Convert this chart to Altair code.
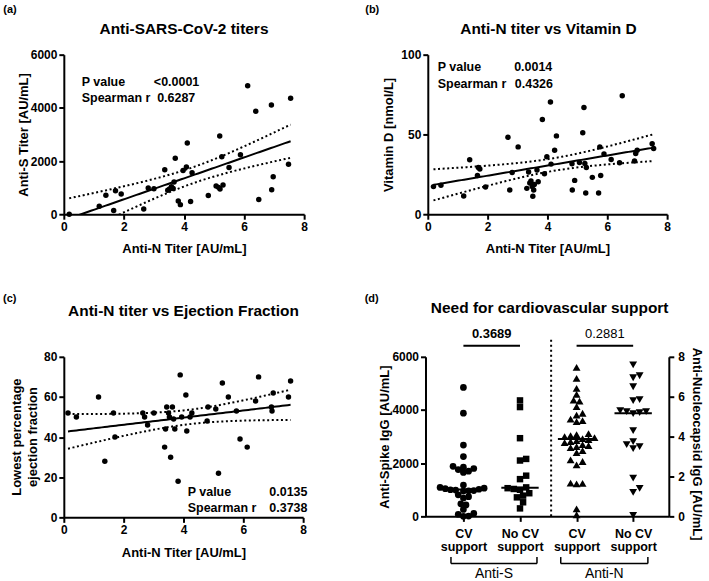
import numpy as np
import pandas as pd
import altair as alt

FONT = "Liberation Sans"

# ---- (a) Anti-N titer vs Anti-S titer ---------------------------------------
a_anti_n = [0.18, 1.18, 1.40, 1.66, 1.72, 1.91, 2.66, 2.81, 3.00, 3.36, 3.46, 3.52,
            3.58, 3.64, 3.67, 3.71, 3.81, 3.88, 3.97, 4.08, 4.11, 4.22, 4.27, 4.81,
            5.07, 5.15, 5.19, 5.20, 5.26, 5.30, 5.50, 5.88, 6.12, 6.39, 6.49, 6.91,
            6.92, 6.97, 7.48, 7.55]
a_anti_s = [0, 300, 710, 137, 885, 760, 200, 985, 960, 1670, 900, 950,
            1030, 970, 1210, 2105, 500, 360, 1645, 1780, 2680, 475, 1560, 700,
            1060, 1010, 2940, 950, 2160, 1100, 1760, 2240, 4835, 3875, 550, 4110,
            920, 1410, 1880, 4360]
a_stats = ("<0.0001", "0.6287")

# ---- (b) Anti-N titer vs vitamin D -------------------------------------------
b_anti_n = [0.19, 0.44, 1.20, 1.40, 1.66, 1.69, 1.74, 1.93, 2.68, 2.74, 2.82, 3.02,
            3.31, 3.37, 3.41, 3.45, 3.49, 3.51, 3.54, 3.56, 3.65, 3.69, 3.83, 3.90,
            3.98, 4.10, 4.12, 4.24, 4.30, 4.82, 4.83, 4.91, 5.07, 5.18, 5.22, 5.25,
            5.28, 5.30, 5.50, 5.71, 5.75, 5.78, 5.89, 6.13, 6.41, 6.50, 6.91, 6.95,
            7.00, 7.50, 7.55]
b_vitamin_d = [17.3, 18.1, 11.4, 34.1, 24.3, 29.3, 28.3, 17.0, 48.2, 15.2, 26.2, 42.2,
               16.2, 26.4, 19.5, 20.8, 17.3, 11.2, 15.2, 18.7, 27.7, 20.4, 59.3, 25.4,
               36.0, 70.3, 31.4, 40.1, 49.1, 31.6, 15.2, 21.2, 32.4, 51.1, 66.9, 31.8,
               13.3, 29.3, 23.1, 13.3, 42.2, 24.3, 37.8, 34.3, 32.2, 74.2, 33.3, 38.0,
               40.1, 44.1, 41.2]
b_stats = ("0.0014", "0.4326")

# ---- (c) Anti-N titer vs lowest ejection fraction ----------------------------
c_anti_n = [0.14, 0.42, 1.16, 1.37, 1.66, 1.71, 2.64, 2.70, 2.80, 3.01, 3.37, 3.40,
            3.44, 3.50, 3.53, 3.57, 3.63, 3.67, 3.71, 3.82, 3.89, 3.94, 4.08, 4.11,
            4.22, 4.28, 4.79, 4.82, 5.08, 5.17, 5.30, 5.50, 5.77, 5.89, 6.13, 6.41,
            6.51, 6.94, 6.96, 7.00, 7.51, 7.58]
c_ejection = [52, 50, 60, 28, 52, 40, 52, 50, 46, 52, 35, 44,
              55, 52, 50, 30, 55, 49, 44, 18, 71, 50, 61, 43,
              50, 52, 48, 55, 54, 22, 67, 60, 53, 39, 35, 58,
              70, 55, 53, 62, 60, 68]
c_stats = ("0.0135", "0.3738")
c_y_title = ["Lowest percentage", "ejection fraction"]

# ---- (d) Need for cardiovascular support -------------------------------------
d_spike_cv = [4850, 3880, 2680, 2250, 1880, 1850, 1800, 1760, 1700, 1650, 1180, 1090,
              1060, 1040, 1020, 1000, 990, 970, 960, 950, 810, 740, 690, 470, 430,
              260, 110, 80, 10, 0]
d_spike_nocv = [4360, 4110, 2940, 2160, 2100, 1530, 1400, 1090, 1060, 1030, 1000, 870,
                780, 715, 530, 300]
d_nuc_cv = [7.47, 6.92, 6.42, 6.12, 5.83, 5.78, 5.50, 5.17, 5.08, 4.88, 4.80, 4.75,
            4.15, 4.10, 4.05, 4.00, 3.95, 3.90, 3.85, 3.80, 3.75, 3.70, 3.60, 3.55,
            3.50, 3.45, 3.30, 3.20, 2.83, 2.75, 2.58, 1.67, 1.65, 1.63, 0.38, 0.08]
d_nuc_nocv = [7.60, 7.05, 6.95, 6.50, 5.85, 5.80, 5.30, 5.25, 5.25, 5.20, 5.15, 4.30,
              3.75, 3.60, 3.50, 3.40, 1.92, 1.40, 1.20, 0.05]
d_nuc_ticks = [0, 2, 4, 6, 8]
d_categories = [["CV", "support"], ["No CV", "support"], ["CV", "support"], ["No CV", "support"]]
d_brackets = ["Anti-S", "Anti-N"]
d_pvalues = ["0.3689", "0.2881"]

ONE = pd.DataFrame({"i": [0]})


def txt(s, x, y, size=12.5, weight="bold", align="left", baseline="middle", angle=0):
    """A free-standing text label placed in pixel coordinates of its panel."""
    return alt.Chart(ONE).mark_text(
        text=s, align=align, baseline=baseline, fontSize=size, angle=angle,
        fontWeight=weight, font=FONT, color="black",
    ).encode(x=alt.value(x), y=alt.value(y))


def t975(df):
    return 1.96 + 2.4 / df + 2.5 / df ** 2


def fit_band(x, y, n_pts=80):
    """Least-squares line with its 95% confidence band for the mean (long format)."""
    x = np.asarray(x, float)
    y = np.asarray(y, float)
    n = len(x)
    slope, icpt = np.polyfit(x, y, 1)
    xs = np.linspace(x.min(), x.max(), n_pts)
    yhat = icpt + slope * xs
    s = np.sqrt(np.sum((y - (icpt + slope * x)) ** 2) / (n - 2))
    sxx = np.sum((x - x.mean()) ** 2)
    se = s * np.sqrt(1.0 / n + (xs - x.mean()) ** 2 / sxx)
    t = t975(n - 2)
    parts = []
    for kind, vals in (("fit", yhat), ("lo", yhat - t * se), ("hi", yhat + t * se)):
        parts.append(pd.DataFrame({"x": xs, "y": vals, "kind": kind}))
    return pd.concat(parts, ignore_index=True)


def scatter_panel(xv, yv, y_max, y_ticks, y_step, y_title, y_title_x, x_title_y,
                  width, height, extras):
    pts = pd.DataFrame({"x": xv, "y": yv})
    band = fit_band(xv, yv)
    xsc = alt.Scale(domain=[0, 8], nice=False)
    ysc = alt.Scale(domain=[0, y_max], nice=False)
    xaxis = alt.Axis(values=[0, 2, 4, 6, 8], title="Anti-N Titer [AU/mL]",
                     titleY=x_title_y, titleBaseline="middle", labelOverlap=False)
    yaxis_kw = dict(values=y_ticks, format="d", labelOverlap=False,
                    labelExpr=f"datum.value % {y_step} == 0 ? datum.label : ''")
    if y_title is None:
        yaxis = alt.Axis(title=None, **yaxis_kw)
    else:
        yaxis = alt.Axis(title=y_title, titleX=y_title_x, titleBaseline="middle", **yaxis_kw)
    points = alt.Chart(pts).mark_circle(size=30, color="black", opacity=1).encode(
        x=alt.X("x:Q", scale=xsc, axis=xaxis),
        y=alt.Y("y:Q", scale=ysc, axis=yaxis),
    )
    base = alt.Chart(band).encode(x=alt.X("x:Q", scale=xsc), y=alt.Y("y:Q", scale=ysc))
    fit = base.transform_filter("datum.kind == 'fit'").mark_line(
        color="black", strokeWidth=2, clip=True)
    bands = base.transform_filter("datum.kind != 'fit'").mark_line(
        color="black", strokeWidth=2, strokeDash=[2, 2.6], clip=True).encode(detail="kind:N")
    return alt.layer(points, fit, bands, *extras).properties(width=width, height=height)


# ---- panel (a)
WA, HA = 241, 160
panel_a = scatter_panel(
    a_anti_n, a_anti_s, 6000, [0, 2000, 4000, 6000], 2000, "Anti-S Titer [AU/mL]",
    -40.4, 34.3, WA, HA,
    [
        txt("(a)", -60.7, -51, 11, baseline="top"),
        txt("Anti-SARS-CoV-2 titers", WA / 2, -25.7, 15.5, align="center"),
        txt("P value", 18, 27.7), txt(a_stats[0], 90.3, 27.7),
        txt("Spearman r", 18, 43.7), txt(a_stats[1], 93.6, 43.7),
    ],
)

# ---- panel (b)
WB, HB = 240, 160
panel_b = scatter_panel(
    b_anti_n, b_vitamin_d, 100, [0, 25, 50, 75, 100], 50, "Vitamin D [nmol/L]",
    -39.4, 34, WB, HB,
    [
        txt("(b)", -62.7, -51, 11, baseline="top"),
        txt("Anti-N titer vs Vitamin D", WB / 2 + 1, -25.7, 15.5, align="center"),
        txt("P value", 10, 12.7), txt(b_stats[0], 86.6, 12.7),
        txt("Spearman r", 10, 29.3), txt(b_stats[1], 87.3, 29.3),
    ],
)

# ---- panel (c): two-line y title set as rotated text beside the axis
WC, HC = 240, 161
panel_c = scatter_panel(
    c_anti_n, c_ejection, 80, [0, 10, 20, 30, 40, 50, 60, 70, 80], 20,
    None, 0, 35, WC, HC,
    [
        txt(c_y_title[0], -47.3, HC / 2, 13, align="center", angle=270),
        txt(c_y_title[1], -30.7, HC / 2, 13, align="center", angle=270),
        txt("(c)", -61, -63.5, 11, baseline="top"),
        txt("Anti-N titer vs Ejection Fraction", WC / 2, -45.7, 15.5, align="center"),
        txt("P value", 124.3, 135.3), txt(c_stats[0], 244.3, 135.3, align="right"),
        txt("Spearman r", 124.3, 151.6), txt(c_stats[1], 244.3, 151.6, align="right"),
    ],
)

# ---- panel (d)
WD, HD = 244, 160
XD = [0.33, 4.63]
PX_PER_X = WD / (XD[1] - XD[0])


def swarm(values, px_per_unit, diam):
    """Horizontal offsets (px) that spread overlapping points side by side."""
    ypx = np.asarray(values, float) * px_per_unit
    offs = np.zeros(len(ypx))
    placed = []
    step = diam / 2.0
    cands = [0.0]
    for j in range(1, 40):
        cands += [j * step, -j * step]
    for i in np.argsort(ypx, kind="stable"):
        for c in cands:
            if all((c - px) ** 2 + (ypx[i] - py) ** 2 >= diam ** 2 for px, py in placed):
                offs[i] = c
                placed.append((c, ypx[i]))
                break
    return offs


def group_frame(values, pos, px_per_unit, diam):
    off = swarm(values, px_per_unit, diam) / PX_PER_X
    return pd.DataFrame({"x": pos + off, "v": values})


spike_px = HD / 6000.0
nuc_px = HD / 8.0
g1 = group_frame(d_spike_cv, 1, spike_px, 5.2)
g2 = group_frame(d_spike_nocv, 2, spike_px, 6.2)
g3 = group_frame(d_nuc_cv, 3, nuc_px, 6.0)
g4 = group_frame(d_nuc_nocv, 4, nuc_px, 6.5)

xd_scale = alt.Scale(domain=XD, nice=False, zero=False)
label_lookup = "[" + ",".join("['" + "','".join(c) + "']" for c in d_categories) + "]"
xd_axis = alt.Axis(values=[1, 2, 3, 4], title=None, labelExpr=f"{label_lookup}[datum.value - 1]",
                   labelLineHeight=13.5, labelFontSize=12.5, labelPadding=6,
                   labelOverlap=False)
spike_scale = alt.Scale(domain=[0, 6000], nice=False)
nuc_scale = alt.Scale(domain=[0, 8], nice=False)
spike_axis = alt.Axis(values=[0, 2000, 4000, 6000], format="d", title="Anti-Spike IgG [AU/mL]",
                      titleX=-41, titleBaseline="middle", labelOverlap=False)
nuc_axis = alt.Axis(values=d_nuc_ticks, tickCount=5, format="d", orient="right",
                    title="Anti-Nucleocapsid IgG [AU/mL]", titleX=28, titleY=HD / 2 + 7,
                    titleBaseline="middle", titleAngle=90, labelOverlap=False,
                    labelSeparation=0, labelPadding=4,
                    labelExpr="format(datum.value, 'd')")

XQ = lambda f: alt.X(f, scale=xd_scale)
YS = lambda f: alt.Y(f, scale=spike_scale)
YN = lambda f: alt.Y(f, scale=nuc_scale)

circles = alt.Chart(g1).mark_circle(size=45, color="black", opacity=1).encode(
    x=alt.X("x:Q", scale=xd_scale, axis=xd_axis),
    y=alt.Y("v:Q", scale=spike_scale, axis=spike_axis))
squares = alt.Chart(g2).mark_square(size=42, color="black", opacity=1).encode(
    x=XQ("x:Q"), y=YS("v:Q"))

HALF = 0.33
spike_med = pd.DataFrame({"pos": [1, 2], "med": [np.median(d_spike_cv), np.median(d_spike_nocv)]})
spike_med["x0"] = spike_med["pos"] - HALF
spike_med["x1"] = spike_med["pos"] + HALF
spike_med_rule = alt.Chart(spike_med).mark_rule(color="black", strokeWidth=2).encode(
    x=XQ("x0:Q"), x2="x1:Q", y=YS("med:Q"))

# comparison bars with p-values above each pair
P_BAR = 6412
pv = pd.DataFrame({"a": [1, 3], "b": [2, 4], "label": d_pvalues})
pv["y"] = P_BAR
pv["mid"] = (pv["a"] + pv["b"]) / 2
pv["ty"] = P_BAR + 460
pbars = alt.Chart(pv).mark_rule(color="black", strokeWidth=2).encode(
    x=XQ("a:Q"), x2="b:Q", y=YS("y:Q"))
ptext_bold = alt.Chart(pv.iloc[[0]]).mark_text(fontSize=13, fontWeight="bold", font=FONT,
                                               color="black", baseline="middle").encode(
    x=XQ("mid:Q"), y=YS("ty:Q"), text="label:N")
ptext_plain = alt.Chart(pv.iloc[[1]]).mark_text(fontSize=13, fontWeight="normal", font=FONT,
                                                color="black", baseline="middle").encode(
    x=XQ("mid:Q"), y=YS("ty:Q"), text="label:N")

# dotted divider between the spike and nucleocapsid halves
divider = alt.Chart(pd.DataFrame({"x": [2.55], "y0": [0], "y1": [6650]})).mark_rule(
    color="black", strokeWidth=2, strokeDash=[2, 3]).encode(
    x=XQ("x:Q"), y=YS("y0:Q"), y2="y1:Q")

# brackets grouping the category labels
br = pd.DataFrame({"a": [0.78, 2.72], "b": [2.30, 4.26], "label": d_brackets})
br["mid"] = [1.54, 3.49]
br["y"] = -1775
br["yt"] = -1530
br["ly"] = -2150
br_h = alt.Chart(br).mark_rule(color="black", strokeWidth=1.5).encode(
    x=XQ("a:Q"), x2="b:Q", y=YS("y:Q"))
br_l = alt.Chart(br).mark_rule(color="black", strokeWidth=1.5).encode(
    x=XQ("a:Q"), y=YS("y:Q"), y2="yt:Q")
br_r = alt.Chart(br).mark_rule(color="black", strokeWidth=1.5).encode(
    x=XQ("b:Q"), y=YS("y:Q"), y2="yt:Q")
br_t = alt.Chart(br).mark_text(fontSize=14, font=FONT, color="black", baseline="middle").encode(
    x=XQ("mid:Q"), y=YS("ly:Q"), text="label:N")

left_group = alt.layer(
    circles, squares, spike_med_rule, pbars, ptext_bold, ptext_plain, divider,
    br_h, br_l, br_r, br_t,
    txt("(d)", -61, -63.5, 11, baseline="top"),
    txt("Need for cardiovascular support", WD / 2 + 2.5, -49.3, 15.5, align="center"),
)

tri_up = alt.Chart(g3).mark_point(shape="triangle-up", filled=True, size=62, color="black",
                                  opacity=1).encode(
    x=XQ("x:Q"), y=alt.Y("v:Q", scale=nuc_scale, axis=nuc_axis))
tri_down = alt.Chart(g4).mark_point(shape="triangle-down", filled=True, size=62, color="black",
                                    opacity=1).encode(x=XQ("x:Q"), y=YN("v:Q"))
nuc_med = pd.DataFrame({"pos": [3, 4], "med": [np.median(d_nuc_cv), np.median(d_nuc_nocv)]})
nuc_med["x0"] = nuc_med["pos"] - HALF
nuc_med["x1"] = nuc_med["pos"] + HALF
nuc_med_rule = alt.Chart(nuc_med).mark_rule(color="black", strokeWidth=2).encode(
    x=XQ("x0:Q"), x2="x1:Q", y=YN("med:Q"))

right_group = alt.layer(tri_up, tri_down, nuc_med_rule)

panel_d = alt.layer(left_group, right_group).resolve_scale(y="independent").properties(
    width=WD, height=HD)

chart = alt.vconcat(
    alt.hconcat(panel_a, panel_b, spacing=57),
    alt.hconcat(panel_c, panel_d, spacing=56.7),
    spacing=37,
).properties(
    padding={"left": 3, "top": 3, "right": 6, "bottom": 0},
    background="white",
).configure_view(stroke=None).configure_axis(
    domainColor="black", domainWidth=2, tickColor="black", tickWidth=2, tickSize=5,
    labelFont=FONT, labelFontSize=12, labelFontWeight="bold", labelColor="black",
    labelPadding=2, labelFlush=False, labelOverlap=False,
    titleFont=FONT, titleFontSize=13, titleFontWeight="bold", titleColor="black",
    grid=False,
).configure_axisRight(labelOverlap=False).configure_axisY(labelOverlap=False).configure_text(font=FONT)

chart.save("out.html", embed_options={"renderer": "svg", "actions": False})
